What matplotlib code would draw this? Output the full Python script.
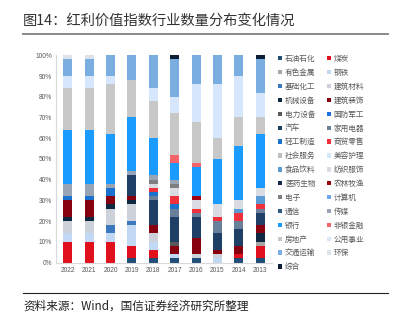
import numpy as np
import matplotlib.pyplot as plt
from matplotlib.lines import Line2D

plt.rcParams['font.family'] = ['Noto Sans CJK SC', 'DejaVu Sans']

# years on the x axis (newest first, as in the report)
years = ['2022', '2021', '2020', '2019', '2018', '2017', '2016', '2015', '2014', '2013']

# share of constituents per industry (%), one value per year above
shiyou   = [0, 0, 0, 2, 2, 2, 2, 0, 2, 2]          # 石油石化
meitan   = [10, 10, 10, 6, 4, 0, 0, 0, 2, 6]       # 煤炭
youse    = [0, 0, 0, 0, 0, 0, 0, 0, 0, 2]          # 有色金属
gangtie  = [4, 4, 4, 10, 4, 2, 0, 2, 0, 0]         # 钢铁
huagong  = [0, 0, 4, 2, 0, 0, 0, 0, 0, 0]          # 基础化工
jiancai  = [6, 6, 8, 8, 4, 0, 2, 2, 0, 0]          # 建筑材料
jixie    = [2, 2, 2, 2, 0, 0, 0, 0, 0, 4]          # 机械设备
jianzhu  = [8, 8, 4, 2, 4, 4, 8, 2, 4, 4]          # 建筑装饰
dianli   = [0, 0, 0, 0, 0, 2, 0, 0, 0, 0]          # 电力设备
guofang  = [0, 0, 0, 0, 0, 0, 0, 0, 0, 0]          # 国防军工
qiche    = [0, 0, 0, 10, 12, 12, 10, 8, 8, 6]      # 汽车
jiadian  = [0, 0, 0, 0, 2, 4, 2, 6, 4, 2]          # 家用电器
qinggong = [2, 2, 4, 0, 2, 2, 0, 0, 0, 0]          # 轻工制造
shangmao = [0, 0, 0, 0, 2, 4, 2, 2, 4, 2]          # 商贸零售
shehui   = [0, 0, 0, 0, 0, 0, 0, 0, 0, 0]          # 社会服务
meirong  = [0, 0, 0, 0, 0, 0, 0, 0, 0, 0]          # 美容护理
shipin   = [0, 0, 0, 0, 0, 0, 0, 0, 2, 4]          # 食品饮料
fangzhi  = [0, 0, 0, 0, 2, 4, 4, 6, 4, 4]          # 纺织服饰
yiyao    = [0, 0, 0, 0, 0, 0, 0, 0, 0, 0]          # 医药生物
nonglin  = [0, 0, 0, 0, 0, 0, 2, 0, 0, 0]          # 农林牧渔
dianzi   = [0, 0, 0, 0, 2, 2, 0, 0, 0, 0]          # 电子
jisuanji = [0, 0, 0, 0, 0, 0, 0, 0, 0, 0]          # 计算机
tongxin  = [0, 0, 0, 0, 0, 0, 0, 0, 0, 0]          # 通信
chuanmei = [6, 6, 2, 2, 2, 2, 0, 0, 0, 0]          # 传媒
yinhang  = [26, 26, 24, 26, 18, 8, 14, 22, 26, 26] # 银行
feiyin   = [0, 0, 0, 0, 0, 4, 2, 0, 0, 0]          # 非银金融
fangdi   = [20, 20, 24, 18, 18, 20, 20, 10, 14, 8] # 房地产
gongyong = [6, 6, 4, 0, 6, 8, 18, 26, 20, 12]      # 公用事业
jiaotong = [8, 8, 10, 12, 16, 18, 14, 14, 10, 16]  # 交通运输
huanbao  = [2, 2, 0, 0, 0, 0, 0, 0, 0, 0]          # 环保
zonghe   = [0, 0, 0, 0, 0, 2, 0, 0, 0, 2]          # 综合

industries = ['石油石化', '煤炭', '有色金属', '钢铁', '基础化工', '建筑材料', '机械设备', '建筑装饰',
              '电力设备', '国防军工', '汽车', '家用电器', '轻工制造', '商贸零售', '社会服务', '美容护理',
              '食品饮料', '纺织服饰', '医药生物', '农林牧渔', '电子', '计算机', '通信', '传媒',
              '银行', '非银金融', '房地产', '公用事业', '交通运输', '环保', '综合']
series = [shiyou, meitan, youse, gangtie, huagong, jiancai, jixie, jianzhu,
          dianli, guofang, qiche, jiadian, qinggong, shangmao, shehui, meirong,
          shipin, fangzhi, yiyao, nonglin, dianzi, jisuanji, tongxin, chuanmei,
          yinhang, feiyin, fangdi, gongyong, jiaotong, huanbao, zonghe]
colors = ['#1F4E79', '#E0101C', '#A6A6A6', '#C2D9F5', '#3A78C0', '#CDD2DA', '#0E2841', '#87000F',
          '#595959', '#1E6FE0', '#1F3F66', '#6A7F99', '#1A72D0', '#F0303A', '#BFBFBF', '#D6E6FA',
          '#5B9BD5', '#D9DDE3', '#13294A', '#A00010', '#7F7F7F', '#6FA8EE', '#2E5C8A', '#97A5B6',
          '#1A9BFF', '#F4646A', '#C8C8C8', '#D6E6FC', '#7AAEE0', '#DDE3EA', '#0B1E36']

fig = plt.figure(figsize=(4.01, 3.22), dpi=100)
ax = fig.add_axes([56/401, 59.5/322, 216/401, 207.2/322])

x = np.arange(len(years))
bottom = np.zeros(len(years))
for name, vals, c in zip(industries, series, colors):
    ax.bar(x, vals, 0.42, bottom=bottom, color=c, label=name, linewidth=0)
    bottom += np.array(vals)

ax.set_xlim(-0.55, 9.55)
ax.set_ylim(0, 100)
ax.set_xticks(x)
ax.set_xticklabels(years, fontsize=4.8, color='#595959', family='Liberation Sans')
ax.set_yticks(np.arange(0, 101, 10))
ax.set_yticklabels([f'{v}%' for v in range(0, 101, 10)], fontsize=4.8, color='#595959',
                   family='Liberation Sans')
ax.tick_params(length=0, pad=3)
for s in ['top', 'right']:
    ax.spines[s].set_visible(False)
for s in ['left', 'bottom']:
    ax.spines[s].set_color('#D9D9D9')
    ax.spines[s].set_linewidth(0.8)

# legend is row-major in the report: reorder for matplotlib's column fill
h, l = ax.get_legend_handles_labels()
h = h[0::2] + h[1::2]
l = l[0::2] + l[1::2]
leg = fig.legend(h, l, loc='upper left', bbox_to_anchor=(278/401, 1 - 55/322), ncol=2,
                 frameon=False, fontsize=5.5, handlelength=0.5, handleheight=0.5,
                 handletextpad=0.4, columnspacing=1.5, labelspacing=0.77,
                 borderpad=0, borderaxespad=0)
for t in leg.get_texts():
    t.set_color('#595959')

# title, rules and source line
fig.text(23/401, 1 - 21/322, '图14：红利价值指数行业数量分布变化情况', fontsize=10.3,
         color='#333333', va='center')
fig.add_artist(Line2D([23/401, 388/401], [1 - 33.5/322] * 2, color='#808080', lw=1.3))
fig.add_artist(Line2D([23/401, 388/401], [1 - 293.3/322] * 2, color='#222222', lw=0.8))
fig.text(23/401, 1 - 306/322, '资料来源：Wind，国信证券经济研究所整理', fontsize=8.4,
         color='#222222', va='center')

fig.savefig('out.png', dpi=100)
